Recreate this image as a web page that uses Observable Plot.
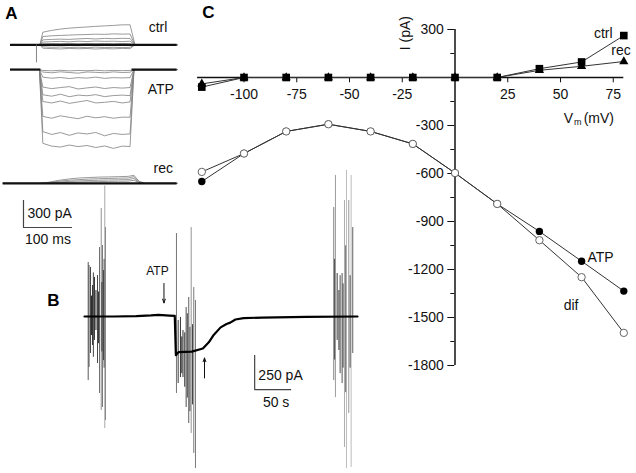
<!DOCTYPE html>
<html>
<head>
<meta charset="utf-8">
<script src="https://cdn.jsdelivr.net/npm/d3@7"></script>
<script src="https://cdn.jsdelivr.net/npm/@observablehq/plot@0.6"></script>
<style>
  html, body { margin: 0; padding: 0; background: #fff; }
  #fig { position: relative; width: 636px; height: 473px; overflow: hidden; }
  #fig svg { position: absolute; left: 0; top: 0; }
</style>
</head>
<body>
<div id="fig"></div>
<script>
// ---------------- Panel C : I–V relation ----------------
const vm    = [-120, -100, -80, -60, -40, -20, 0, 20, 40, 60, 80];
const ctrlI = [-60, 0, 0, 0, 0, 0, 0, 0, 55, 97, 262];
const recI  = [-40, 0, 0, 0, 0, 0, 0, 0, 45, 70, 100];
const atpI  = [-650, -475, -337, -292, -337, -415, -597, -790, -962, -1148, -1335];
const difI  = [-590, -475, -337, -292, -337, -415, -597, -790, -1017, -1248, -1596];
const xTicksC = [-100, -75, -50, -25, 25, 50, 75];
const yTicksC = [300, -300, -600, -900, -1200, -1500, -1800];
const yMinorC = [150, -150, -450, -750, -1050, -1350, -1650];

// ---------------- Panel A : current traces (pA) ----------------
const pulseT = [66, 84, 102, 120, 138, 156, 174, 192, 210, 228, 244];
const ctrlLevels = [
  [140,160,175,185,192,198,205,210,215,222,222],
  [ 92,100,104,108,112,114,118,116,121,119,120],
  [ 55, 60, 63, 60, 66, 70, 65, 71, 68, 72, 70],
  [ 30, 35, 38, 33, 40, 36, 42, 38, 40, 36, 40],
  [ 10, 14, 11, 16, 10, 15, 12, 14, 11, 15, 12],
  [-22,-28,-25,-30,-27,-32,-26,-30,-28,-31,-28],
  [-38,-42,-46,-40,-44,-41,-47,-42,-45,-40,-43]
];
const atpLevels = [
  [-10,-14,-8,-15,-10,-13,-8,-14,-10,-12,-10],
  [-28,-36,-25,-33,-40,-27,-31,-36,-26,-33,-30],
  [-85,-96,-88,-100,-90,-95,-84,-98,-90,-93,-90],
  [-195,-212,-200,-190,-216,-204,-194,-211,-200,-206,-200],
  [-280,-296,-274,-302,-284,-291,-279,-301,-289,-284,-290],
  [-355,-371,-350,-376,-360,-344,-371,-364,-354,-371,-360],
  [-520,-541,-514,-531,-546,-519,-536,-524,-541,-529,-530],
  [-690,-721,-700,-731,-704,-716,-699,-736,-710,-721,-715],
  [-820,-851,-861,-839,-856,-844,-866,-849,-876,-851,-855]
];
const recT = [60, 80, 100, 120, 140, 160, 180, 200, 220, 240, 252, 262];
const recLevels = [
  [0,15,35,50,60,65,70,72,75,78,90,25],
  [0,10,25,35,42,48,52,55,58,60,75,18],
  [0, 5,15,22,28,32,35,38,40,42,55,12],
  [0, 3, 8,12,15,18,20,22,24,25,35, 8]
];
const groupOffsetA = {ctrl: 0, ATP: -275, rec: -1540};
const scaleBarA = {pA: 300, ms: 100};

// ---------------- Panel B : holding current (pA vs s) ----------------
const traceBt = [0, 40, 70, 90, 100, 115, 122, 123.5, 127, 145, 160, 168, 174, 184, 192, 197, 204, 215, 240, 300, 369];
const traceBi = [0, 0, 3, 8, 12, 7, 5, -285, -262, -258, -235, -190, -140, -80, -55, -45, -22, -12, -8, -3, 0];
// spikes: [time s, top pA, bottom pA]
const burst1 = [[5.0,397,-471],[6.1,375,-375],[8.1,360,-272],[9.5,150,-140],[10.8,228,-213],[12,320,-300],[13.5,287,-176],[15.5,191,-103],
                [17.6,301,-346],[19,180,-200],[20.3,507,-566],[22.6,794,-691],[23.5,250,-260],[24.3,522,-669],[25.7,338,-324],
                [26.5,420,-380],[27.4,960,-824],[28.4,654,-765]];
const burst2 = [[124.3,610,-566],[126.6,-29,-493],[129.7,-7,-449],[131.5,-150,-420],[133.1,-103,-449],[135.5,-120,-520],[137.4,66,-669],
                [139,20,-600],[140.9,140,-787],[142.5,-80,-700],[144.2,654,-860],[146,-60,-650],[147.7,213,-1007],[150.0,118,-1118]];
const burst3 = [[336.9,801,-471],[338,420,-320],[339.2,1037,-596],[341.5,316,-176],[343.9,191,-250],[345.5,300,-420],[348.2,316,-493],
                [349.5,240,-380],[351.4,853,-963],[353,520,-560],[354.1,1074,-1118],[357.2,853,-713],[359,300,-380],[360.4,1037,-1110],[362.6,654,-272]];
const scaleBarB = {pA: 250, s: 50};

const FONT = "'Liberation Sans', Arial, Helvetica, sans-serif";
const fig = document.getElementById("fig");
const baseStyle = {fontFamily: FONT, fontSize: "14px", background: "transparent", overflow: "visible", color: "#111"};

// ---------- build panel A ----------
const tracesA = [];
ctrlLevels.forEach((lv, k) => {
  const o = groupOffsetA.ctrl;
  const pts = [{t: 0, i: o}, {t: 60, i: o}];
  pulseT.forEach((t, j) => pts.push({t, i: o + lv[j]}));
  pts.push({t: 254, i: o}, {t: 340, i: o});
  pts.forEach(p => p.id = "c" + k);
  tracesA.push(...pts);
});
atpLevels.forEach((lv, k) => {
  const o = groupOffsetA.ATP;
  const pts = [{t: 0, i: o}, {t: 59, i: o}];
  pulseT.forEach((t, j) => pts.push({t, i: o + lv[j]}));
  pts.push({t: 252, i: o}, {t: 340, i: o});
  pts.forEach(p => p.id = "a" + k);
  tracesA.push(...pts);
});
recLevels.forEach((lv, k) => {
  const o = groupOffsetA.rec;
  const pts = [{t: -15, i: o}];
  recT.forEach((t, j) => pts.push({t, i: o + lv[j]}));
  pts.push({t: 275, i: o}, {t: 340, i: o});
  pts.forEach(p => p.id = "r" + k);
  tracesA.push(...pts);
});

const sbA = {t: 26.5, i: -1730};
const plotA = Plot.plot({
  width: 636, height: 473, margin: 0,
  x: {domain: [0, 340], range: [10, 176.6], axis: null},
  y: {domain: [0, -2000], range: [44.3, 224.3], axis: null},
  style: baseStyle,
  marks: [
    Plot.line(tracesA, {x: "t", y: "i", z: "id", stroke: "#808080", strokeWidth: 0.8}),
    Plot.ruleY([groupOffsetA.ctrl], {x1: 0, x2: 340, stroke: "#111", strokeWidth: 2.2}),
    Plot.ruleY([groupOffsetA.ATP], {x1: 0, x2: 62, stroke: "#111", strokeWidth: 2.2}),
    Plot.ruleY([groupOffsetA.ATP], {x1: 248, x2: 340, stroke: "#111", strokeWidth: 2.2}),
    Plot.ruleY([groupOffsetA.rec], {x1: -15, x2: 340, stroke: "#111", strokeWidth: 2.2}),
    Plot.ruleX([53], {y1: 0, y2: -200, stroke: "#666", strokeWidth: 0.8}),
    // scale bar
    Plot.ruleX([sbA.t], {y1: sbA.i, y2: sbA.i - scaleBarA.pA, stroke: "#444", strokeWidth: 1.2}),
    Plot.ruleY([sbA.i - scaleBarA.pA], {x1: sbA.t, x2: sbA.t + scaleBarA.ms, stroke: "#444", strokeWidth: 1.2}),
    Plot.text([`${scaleBarA.pA} pA`], {x: sbA.t + 8, y: sbA.i - 150, text: d => d, textAnchor: "start", fontSize: 14, fill: "#111"}),
    Plot.text([`${scaleBarA.ms} ms`], {x: sbA.t + 50, y: sbA.i - 430, text: d => d, textAnchor: "middle", fontSize: 14, fill: "#111"}),
    // group labels
    Plot.text(["ctrl"], {x: 282, y: 190, text: d => d, textAnchor: "start", fontSize: 14, fill: "#111"}),
    Plot.text(["ATP"], {x: 280, y: -500, text: d => d, textAnchor: "start", fontSize: 14, fill: "#111"}),
    Plot.text(["rec"], {x: 292, y: -1375, text: d => d, textAnchor: "start", fontSize: 14, fill: "#111"}),
    Plot.text(["A"], {x: -10.5, y: 350, text: d => d, textAnchor: "start", fontSize: 17, fontWeight: "bold", fill: "#000"})
  ]
});

// ---------- build panel B ----------
const traceB = traceBt.map((t, k) => ({t, i: traceBi[k]}));
const spikes = [...burst1, ...burst2, ...burst3].map(([t, top, bottom]) => ({t, top, bottom}));
const sbB = {t: 230, i: -287};
const plotB = Plot.plot({
  width: 636, height: 473, margin: 0,
  x: {domain: [0, 369], range: [84, 357], axis: null},
  y: {domain: [0, -1000], range: [316, 452], axis: null},
  color: {type: "linear", domain: [300, 2000], range: ["#2a2a2a", "#bdbdbd"], clamp: true},
  style: baseStyle,
  marks: [
    Plot.ruleX(spikes, {x: "t", y1: "top", y2: "bottom", stroke: d => d.top - d.bottom, strokeWidth: 1, sort: d => -(d.top - d.bottom)}),
    Plot.line(traceB, {x: "t", y: "i", stroke: "#000", strokeWidth: 2.2}),
    Plot.ruleX([sbB.t], {y1: sbB.i, y2: sbB.i - scaleBarB.pA, stroke: "#444", strokeWidth: 1.2}),
    Plot.ruleY([sbB.i - scaleBarB.pA], {x1: sbB.t, x2: sbB.t + scaleBarB.s, stroke: "#444", strokeWidth: 1.2}),
    Plot.text([`${scaleBarB.pA} pA`], {x: sbB.t + 5, y: sbB.i - 147, text: d => d, textAnchor: "start", fontSize: 14, fill: "#111"}),
    Plot.text([`${scaleBarB.s} s`], {x: sbB.t + 29, y: sbB.i - 345, text: d => d, textAnchor: "middle", fontSize: 14, fill: "#111"}),
    Plot.text(["ATP"], {x: 98.6, y: 331, text: d => d, textAnchor: "middle", fontSize: 12, fill: "#111"}),
    Plot.arrow([{x1: 107.4, y1: 243, x2: 107.4, y2: 100}], {x1: "x1", y1: "y1", x2: "x2", y2: "y2", headLength: 6, headAngle: 40, strokeWidth: 1, stroke: "#111"}),
    Plot.arrow([{x1: 162.2, y1: -452, x2: 162.2, y2: -305}], {x1: "x1", y1: "y1", x2: "x2", y2: "y2", headLength: 6, headAngle: 40, strokeWidth: 1, stroke: "#111"}),
    Plot.text(["B"], {x: -50.5, y: 118, text: d => d, textAnchor: "start", fontSize: 17, fontWeight: "bold", fill: "#000"})
  ]
});

// ---------- build panel C ----------
const ser = (arr) => vm.map((v, k) => ({v, i: arr[k]}));
const ctrlData = ser(ctrlI), recData = ser(recI), atpData = ser(atpI), difData = ser(difI);
const plotC = Plot.plot({
  width: 636, height: 473,
  marginLeft: 454.3, marginRight: 0, marginTop: 0, marginBottom: 473 - 77.3,
  x: {domain: [-120, 80], range: [201.3, 623.3]},
  y: {domain: [300, -1800], range: [29, 365]},
  style: baseStyle,
  marks: [
    Plot.ruleY([0], {x1: -122, x2: 80, stroke: "#111", strokeWidth: 1.5}),
    Plot.ruleX([0], {y1: 300, y2: -1800, stroke: "#111", strokeWidth: 1.5}),
    Plot.axisY({anchor: "left", ticks: yTicksC, tickSize: 7, tickPadding: 4, tickFormat: d => String(d), label: null, fontSize: 14}),
    Plot.axisY({anchor: "left", ticks: yMinorC, tickSize: 4, tickFormat: null, text: null, label: null}),
    Plot.axisX({anchor: "bottom", ticks: xTicksC, tickSize: 5, tickPadding: 6, tickFormat: d => String(d), label: null, fontSize: 14}),
    Plot.line(recData, {x: "v", y: "i", stroke: "#333", strokeWidth: 1}),
    Plot.line(ctrlData, {x: "v", y: "i", stroke: "#333", strokeWidth: 1}),
    Plot.line(atpData, {x: "v", y: "i", stroke: "#333", strokeWidth: 1}),
    Plot.line(difData, {x: "v", y: "i", stroke: "#333", strokeWidth: 1}),
    Plot.dot(recData, {x: "v", y: "i", symbol: "triangle", r: 3.4, fill: "#000", stroke: "none"}),
    Plot.dot(ctrlData, {x: "v", y: "i", symbol: "square", r: 4.3, fill: "#000", stroke: "none"}),
    Plot.dot(atpData, {x: "v", y: "i", symbol: "circle", r: 3.7, fill: "#000", stroke: "none"}),
    Plot.dot(difData, {x: "v", y: "i", symbol: "circle", r: 3.7, fill: "#fff", stroke: "#666", strokeWidth: 1}),
    Plot.text(["ctrl"], {x: 74.7, y: 277, text: d => d, textAnchor: "end", fontSize: 14, fill: "#111"}),
    Plot.text(["rec"], {x: 83.3, y: 170, text: d => d, textAnchor: "end", fontSize: 14, fill: "#111"}),
    Plot.text(["ATP"], {x: 62.8, y: -1123, text: d => d, textAnchor: "start", fontSize: 14, fill: "#111"}),
    Plot.text(["dif"], {x: 51.5, y: -1423, text: d => d, textAnchor: "start", fontSize: 14, fill: "#111"}),
    Plot.text(["I (pA)"], {x: -23.4, y: 277, text: d => d, rotate: -90, textAnchor: "middle", fontSize: 14, fill: "#111"}),
    Plot.text(["V"], {x: 51.5, y: -254, text: d => d, textAnchor: "start", fontSize: 14, fill: "#111"}),
    Plot.text(["m"], {x: 56.4, y: -280, text: d => d, textAnchor: "start", fontSize: 9, fill: "#111"}),
    Plot.text(["(mV)"], {x: 61, y: -254, text: d => d, textAnchor: "start", fontSize: 14, fill: "#111"}),
    Plot.text(["C"], {x: -119.8, y: 405, text: d => d, textAnchor: "start", fontSize: 17, fontWeight: "bold", fill: "#000"})
  ]
});

[plotA, plotB, plotC].forEach(p => fig.appendChild(p));
</script>
</body>
</html>
